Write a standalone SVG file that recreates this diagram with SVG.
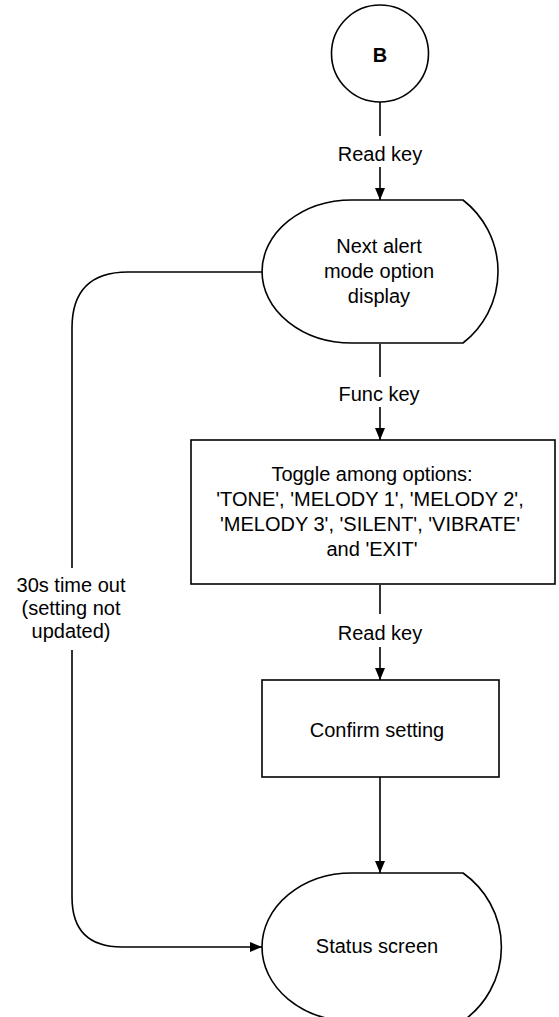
<svg xmlns="http://www.w3.org/2000/svg" width="559" height="1017" viewBox="0 0 559 1017">
<style>
.shape{fill:#fff;stroke:#000;stroke-width:1.6}
.conn{fill:none;stroke:#000;stroke-width:1.6}
text{font-family:"Liberation Sans",Arial,sans-serif;font-size:20px;fill:#000;text-anchor:middle}
.b{font-weight:bold}
</style>
<defs>
<marker id="ah" viewBox="0 0 12 12" refX="12" refY="6" markerWidth="12" markerHeight="12" markerUnits="userSpaceOnUse" orient="auto">
<path d="M0,1 L12,6 L0,11 Z" fill="#000"/>
</marker>
</defs>
<rect width="559" height="1017" fill="#fff"/>
<g id="connectors">
<line class="conn" x1="380" y1="102" x2="380" y2="136"/>
<line class="conn" x1="380" y1="167" x2="380" y2="200" marker-end="url(#ah)"/>
<line class="conn" x1="380" y1="344" x2="380" y2="377"/>
<line class="conn" x1="380" y1="407" x2="380" y2="440" marker-end="url(#ah)"/>
<line class="conn" x1="380" y1="585" x2="380" y2="614"/>
<line class="conn" x1="380" y1="647" x2="380" y2="680" marker-end="url(#ah)"/>
<line class="conn" x1="380" y1="777" x2="380" y2="873" marker-end="url(#ah)"/>
<path class="conn" d="M262,272 L128,272 Q72,272 72,328 L72,568"/>
<path class="conn" d="M72,650 L72,897 Q72,947 122,947 L262,947" marker-end="url(#ah)"/>
<text x="380" y="161">Read key</text>
<text x="379" y="401">Func key</text>
<text x="380" y="640">Read key</text>
<text x="71" y="592">30s time out</text>
<text x="71" y="615">(setting not</text>
<text x="71" y="638">updated)</text>
</g>
<g id="node-b">
<circle class="shape" cx="380" cy="53.5" r="48.5"/>
<text class="b" x="380" y="62">B</text>
</g>
<g id="node-next-alert">
<path class="shape" d="M352,200 L463,200 A90.5,90.5 0 0 1 463,343 L352,343 A90,71.5 0 0 1 352,200 Z"/>
<text x="379" y="253">Next alert</text>
<text x="379" y="278">mode option</text>
<text x="379" y="303">display</text>
</g>
<g id="node-toggle">
<rect class="shape" x="191" y="440" width="364" height="144"/>
<text x="372" y="481">Toggle among options:</text>
<text x="370" y="506">'TONE', 'MELODY 1', 'MELODY 2',</text>
<text x="370" y="531">'MELODY 3', 'SILENT', 'VIBRATE'</text>
<text x="372" y="556">and 'EXIT'</text>
</g>
<g id="node-confirm">
<rect class="shape" x="262" y="680" width="237" height="97"/>
<text x="377" y="737">Confirm setting</text>
</g>
<g id="node-status">
<path class="shape" d="M352,873 L463,873 A90.5,90.5 0 0 1 463,1021 L352,1021 A90,74 0 0 1 352,873 Z"/>
<text x="377" y="953">Status screen</text>
</g>
</svg>
